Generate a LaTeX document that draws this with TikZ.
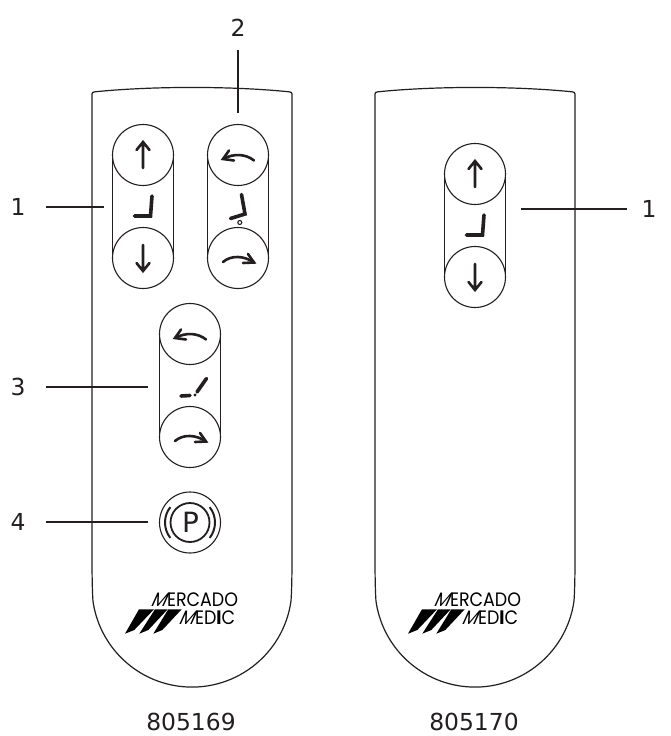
\documentclass[tikz,border=0pt]{standalone}
\usepackage{fontspec}
\setmainfont{DejaVu Sans}
\newfontfamily\logofont{Poppins}
\newfontfamily\logoslant[FakeSlant=0.5]{Poppins}
\definecolor{ink}{HTML}{231F20}
\tikzset{
  thin line/.style={line width=1.1bp,draw=ink},
  body line/.style={line width=1.2bp,draw=ink},
  leader/.style={line width=2bp,draw=ink},
  glyph/.style={line width=2.6bp,draw=ink,line cap=round,line join=miter},
  seat/.style={line width=3.6bp,draw=ink,line cap=round,line join=miter},
  label/.style={font=\fontsize{23.5}{23.5}\selectfont,text=ink,inner sep=0pt},
  logotext/.style={font=\logofont\fontsize{19.5}{19.5}\selectfont,text=black,inner sep=0pt,anchor=west},
  pics/pill/.style args={#1}{code={
    \draw[thin line] (-30.5,0) -- (-30.5,#1) (30.5,0) -- (30.5,#1);
    \draw[thin line] (0,0) circle[radius=30.5];
    \draw[thin line] (0,#1) circle[radius=30.5];
  }},
  pics/uparrow/.style={code={
    \draw[glyph] (0,13) -- (0,-13) (-6.5,-5) -- (0,-13) -- (6.5,-5);
  }},
  pics/downarrow/.style={code={
    \draw[glyph] (0,-13) -- (0,13) (-6.5,5) -- (0,13) -- (6.5,5);
  }},
  pics/curveleft/.style={code={
    \draw[glyph] (16,5.5) .. controls (8,-1) and (-4,-2) .. (-15,4);
    \draw[glyph] (-9,-4.5) -- (-15,4) -- (-4,5.5);
  }},
  pics/curveright/.style={code={
    \draw[glyph] (-15,4) .. controls (-7,-3) and (6,-2.5) .. (16,4.5);
    \draw[glyph] (10,-4) -- (16,4.5) -- (5,5);
  }},
  pics/remote/.style={code={
    \draw[body line] (0,8) .. controls (0,6.5) and (1,6) .. (3,5.8)
      .. controls (60,0) and (140,0) .. (197,5.8)
      .. controls (199,6) and (200,6.5) .. (200,8)
      -- (200,470) .. controls (200,490) and (199.7,505) .. (199,515)
      arc[start angle=8,end angle=172,radius=100]
      .. controls (0.3,505) and (0,490) .. (0,470)
      -- cycle;
  }},
  pics/logo/.style={code={
    \fill[black] (14,0.3) -- (29,0.3) -- (9.3,21) -- (0,24.7) -- cycle;
    \fill[black] (30,0.3) -- (42.7,0.3) -- (23.3,21) -- (14.3,24.7) -- cycle;
    \fill[black] (43.3,0.3) -- (56.7,0.3) -- (37.3,21) -- (28.3,24.7) -- cycle;
    \node[logotext] at (25,-9.5) {\scalebox{0.9}[1]{{\logoslant M}\kern2pt ERCADO}};
    \node[logotext] at (53,8.5) {\scalebox{0.9}[1]{{\logoslant M}\kern2pt ED{\bfseries I}C}};
  }},
}
\begin{document}
\begin{tikzpicture}[x=1bp,y=-1bp]
\useasboundingbox (0,0) rectangle (671,736);
\fill[white] (0,0) rectangle (671,736);
\pic at (92,86) {remote};
\pic at (375,86) {remote};
% left column 1
\pic at (143,155) {pill={103}};
\pic at (143,155) {uparrow};
\pic at (143,258) {downarrow};
\draw[seat] (152,196) -- (150.5,216) -- (134.5,216);
% left column 2
\pic at (238,155) {pill={103}};
\pic at (238,155) {curveleft};
\pic at (238,258) {curveright};
\draw[seat] (241.5,194.5) -- (245,214) -- (230.5,218.5);
\draw[line width=1.1bp,draw=ink] (239.8,222.5) circle[radius=2];
% centre column
\pic at (190,334) {pill={103}};
\pic at (190,334) {curveleft};
\pic at (190,437) {curveright};
\draw[seat] (181,396) -- (190,395.5);
\fill[ink] (195,395) circle[radius=1.6];
\draw[seat] (197,392) -- (206.5,378.5);
% park button
\draw[thin line] (190,522.5) circle[radius=30.5];
\draw[line width=1.8bp,draw=ink] (190,522.5) circle[radius=19.5];
\draw[line width=2bp,draw=ink] (190,522.5) ++(-38:25) arc[start angle=-38,end angle=38,radius=25];
\draw[line width=2bp,draw=ink] (190,522.5) ++(142:25) arc[start angle=142,end angle=218,radius=25];
\node[font=\fontsize{28}{28}\selectfont,text=ink,inner sep=0pt] (park) at (190.5,522.5) {P};
% right remote column
\pic at (475,174) {pill={103}};
\pic at (475,174) {uparrow};
\pic at (475,277) {downarrow};
\draw[seat] (484,215) -- (482.5,235) -- (466.5,235);
% logos
\pic at (125,609) {logo};
\pic at (408,609) {logo};
% labels and leaders
\node[label] (n1) at (18,207) {1};
\node[label] (n2) at (238,28) {2};
\node[label] (n3) at (18,387) {3};
\node[label] (n4) at (18,522) {4};
\node[label] (n5) at (649,209) {1};
\coordinate (e1a) at (46,207); \coordinate (e1b) at (104,207);
\coordinate (e2a) at (238,50); \coordinate (e2b) at (238,113);
\coordinate (e3a) at (46,387); \coordinate (e3b) at (148,387);
\coordinate (e4a) at (46,522); \coordinate (e4b) at (148,522);
\coordinate (e5a) at (521,209); \coordinate (e5b) at (627,209);
\draw[leader] (e1a) -- (e1b);
\draw[leader] (e2a) -- (e2b);
\draw[leader] (e3a) -- (e3b);
\draw[leader] (e4a) -- (e4b);
\draw[leader] (e5a) -- (e5b);
\node[label] (t1) at (191,722) {805169};
\node[label] (t2) at (474,722) {805170};
\end{tikzpicture}
\end{document}
